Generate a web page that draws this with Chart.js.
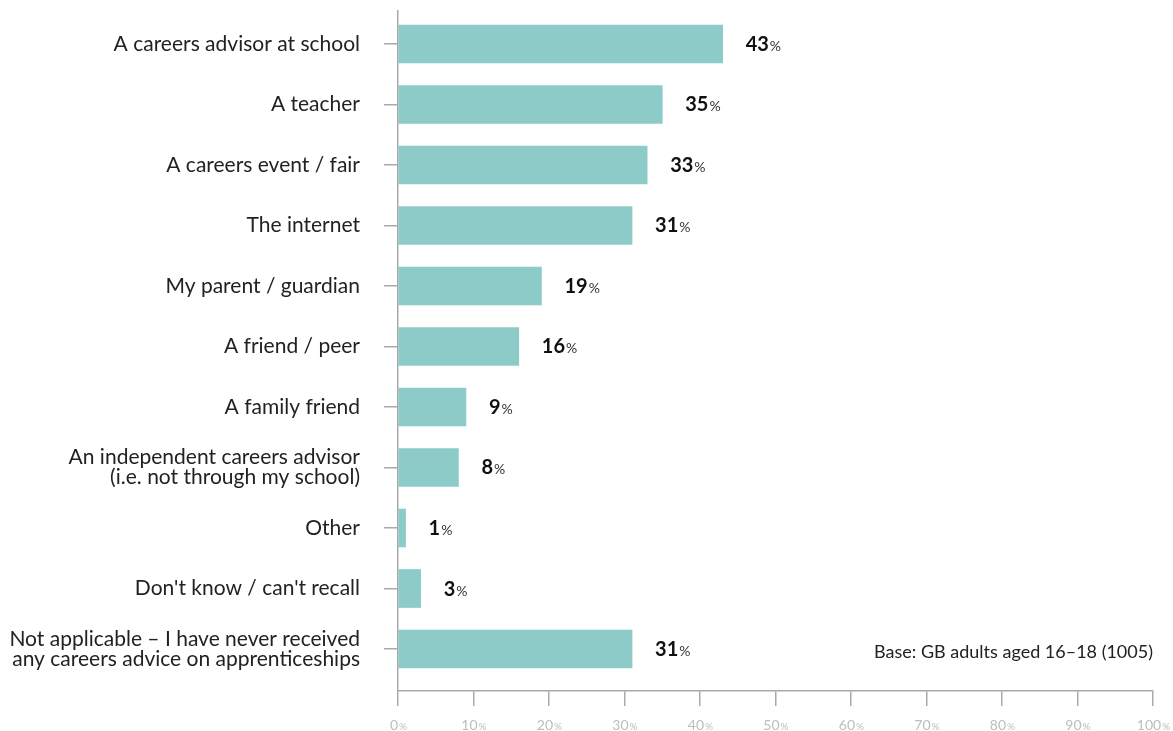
<!DOCTYPE html>
<html>
<head>
<meta charset="utf-8">
<script src="https://cdn.jsdelivr.net/npm/chart.js@4"></script>
<style>
  html, body { margin: 0; padding: 0; background: #fff; }
  #wrap { width: 1173px; height: 731px; }
</style>
</head>
<body>
<div id="wrap"><canvas id="adviceChart" width="1173" height="731"></canvas></div>
<script>
const sources = [
    'A careers advisor at school',
    'A teacher',
    'A careers event / fair',
    'The internet',
    'My parent / guardian',
    'A friend / peer',
    'A family friend',
    ['An independent careers advisor', '(i.e. not through my school)'],
    'Other',
    "Don't know / can't recall",
    ['Not applicable \u2013 I have never received', 'any careers advice on apprenticeships']
];
const percentages = [43, 35, 33, 31, 19, 16, 9, 8, 1, 3, 31];
const xTicks = [0, 10, 20, 30, 40, 50, 60, 70, 80, 90, 100];
const baseNote = 'Base: GB adults aged 16\u201318 (1005)';

const FONT = 'Lato, "Noto Sans", sans-serif';
const AXIS_GREY = '#a9a9a9';

// bold number followed by a smaller % sign
function drawPercent(ctx, x, y, num, numFont, pctFont, numColor, pctColor, align) {
    ctx.font = numFont;
    const w1 = ctx.measureText(num).width;
    ctx.font = pctFont;
    const w2 = ctx.measureText('%').width;
    const left = align === 'center' ? x - (w1 + w2) / 2 : x;
    ctx.textAlign = 'left';
    ctx.textBaseline = 'alphabetic';
    ctx.font = numFont;
    ctx.fillStyle = numColor;
    ctx.fillText(num, left, y);
    ctx.font = pctFont;
    ctx.fillStyle = pctColor;
    ctx.fillText('%', left + w1 + 1, y);
}

const labelPlugin = {
    id: 'labelPlugin',
    afterDraw(chart) {
        const ctx = chart.ctx;
        ctx.save();
        // value labels beside each bar
        chart.getDatasetMeta(0).data.forEach((bar, i) => {
            drawPercent(ctx, bar.x + 23, bar.y + 7, String(percentages[i]),
                'bold 20px ' + FONT, '14px ' + FONT, '#111', '#333', 'left');
        });
        // x tick labels
        const xs = chart.scales.x;
        xTicks.forEach(v => {
            drawPercent(ctx, xs.getPixelForValue(v), xs.top + 39, String(v),
                '14px ' + FONT, '10px ' + FONT, '#bdbdbd', '#bdbdbd', 'center');
        });
        // base note
        ctx.font = '18px ' + FONT;
        ctx.fillStyle = '#222';
        ctx.textAlign = 'right';
        ctx.textBaseline = 'middle';
        ctx.fillText(baseNote, chart.chartArea.right, 652);
        ctx.restore();
    }
};

new Chart(document.getElementById('adviceChart'), {
    type: 'bar',
    data: {
        datasets: [{
            data: percentages.map((v, i) => ({ x: v, y: i })),
            backgroundColor: '#8ccbc8',
            barThickness: 38
        }]
    },
    options: {
        indexAxis: 'y',
        responsive: false,
        animation: false,
        layout: { padding: { top: 11, right: 20, left: 0, bottom: 0 } },
        plugins: {
            legend: { display: false },
            tooltip: { enabled: false }
        },
        scales: {
            y: {
                type: 'linear',
                reverse: true,
                offset: false,
                min: -0.545,
                max: 10.694,
                afterBuildTicks: (scale) => {
                    scale.ticks = sources.map((_, i) => ({ value: i }));
                },
                afterFit: (scale) => {
                    scale.width = 398;
                    scale.paddingTop = 0;
                    scale.paddingBottom = 0;
                },
                border: { color: AXIS_GREY, width: 1.5 },
                grid: { offset: false, drawOnChartArea: false, tickLength: 14, color: AXIS_GREY, lineWidth: 1.5 },
                ticks: {
                    autoSkip: false,
                    padding: 24,
                    color: '#222',
                    font: { family: FONT, size: 21, lineHeight: '20px' },
                    callback: (v) => sources[v]
                }
            },
            x: {
                min: 0,
                max: 100,
                afterBuildTicks: (scale) => {
                    scale.ticks = xTicks.map(v => ({ value: v }));
                },
                afterFit: (scale) => {
                    scale.height = 40;
                    scale.paddingLeft = 0;
                    scale.paddingRight = 0;
                },
                border: { color: AXIS_GREY, width: 1.5 },
                grid: { drawOnChartArea: false, tickLength: 15, color: AXIS_GREY, lineWidth: 1.5 },
                ticks: { display: false }
            }
        }
    },
    plugins: [labelPlugin]
});
</script>
</body>
</html>
